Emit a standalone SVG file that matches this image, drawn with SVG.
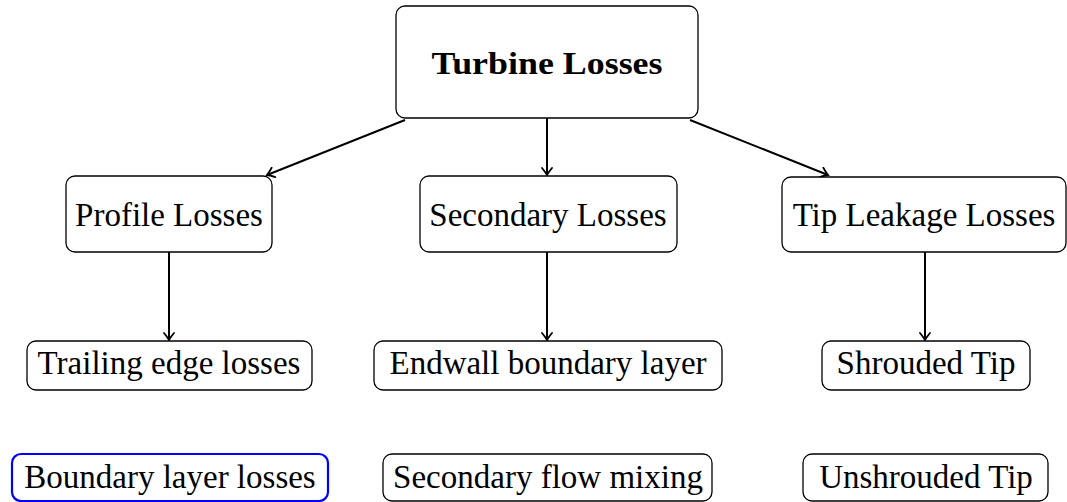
<svg xmlns="http://www.w3.org/2000/svg" width="1067" height="502" viewBox="0 0 1067 502">
<defs>
<style>
.box{fill:#fff;stroke:#000;stroke-width:1.3}
.blue{fill:#fff;stroke:#0000ff;stroke-width:2.2}
.t{font-family:"Liberation Serif","DejaVu Serif",serif;font-size:33px;fill:#000;text-anchor:middle}
.tb{font-family:"Liberation Serif","DejaVu Serif",serif;font-size:32px;font-weight:bold;fill:#000;text-anchor:middle}
.c{fill:none;stroke:#000;stroke-width:2}
</style>
<marker id="ah" viewBox="-8 -6 10 12" markerWidth="10" markerHeight="12" refX="0" refY="0" orient="auto" markerUnits="userSpaceOnUse">
<path d="M-7,-5 Q-2,-1 0,0 Q-2,1 -7,5" fill="none" stroke="#000" stroke-width="1.8" stroke-linecap="round"/>
</marker>
</defs>
<g id="connectors">
<line class="c" x1="405" y1="120" x2="267" y2="175" marker-end="url(#ah)"/>
<line class="c" x1="547" y1="118" x2="547" y2="175" marker-end="url(#ah)"/>
<line class="c" x1="690" y1="120" x2="828" y2="175" marker-end="url(#ah)"/>
<line class="c" x1="169" y1="252" x2="169" y2="340" marker-end="url(#ah)"/>
<line class="c" x1="547" y1="252" x2="547" y2="340" marker-end="url(#ah)"/>
<line class="c" x1="925" y1="252" x2="925" y2="340" marker-end="url(#ah)"/>
</g>
<g id="turbine-losses">
<rect class="box" x="396" y="6" width="302" height="112" rx="9"/>
<text class="tb" x="547" y="74" textLength="231" lengthAdjust="spacingAndGlyphs">Turbine Losses</text>
</g>
<g id="profile-losses">
<rect class="box" x="66" y="176" width="206" height="76" rx="9"/>
<text class="t" x="169" y="226">Profile Losses</text>
</g>
<g id="secondary-losses">
<rect class="box" x="420" y="176" width="257" height="76" rx="9"/>
<text class="t" x="548" y="226">Secondary Losses</text>
</g>
<g id="tip-leakage-losses">
<rect class="box" x="782" y="177" width="284" height="75" rx="9"/>
<text class="t" x="924" y="226">Tip Leakage Losses</text>
</g>
<g id="trailing-edge-losses">
<rect class="box" x="27" y="341" width="285" height="49" rx="9"/>
<text class="t" x="169" y="374">Trailing edge losses</text>
</g>
<g id="endwall-boundary-layer">
<rect class="box" x="374" y="341" width="348" height="49" rx="9"/>
<text class="t" x="548" y="374">Endwall boundary layer</text>
</g>
<g id="shrouded-tip">
<rect class="box" x="822" y="341" width="208" height="49" rx="9"/>
<text class="t" x="926" y="374">Shrouded Tip</text>
</g>
<g id="boundary-layer-losses">
<rect class="blue" x="12" y="454" width="316" height="47" rx="9"/>
<text class="t" x="170" y="488">Boundary layer losses</text>
</g>
<g id="secondary-flow-mixing">
<rect class="box" x="383" y="454" width="329" height="47" rx="9"/>
<text class="t" x="548" y="488">Secondary flow mixing</text>
</g>
<g id="unshrouded-tip">
<rect class="box" x="803" y="454" width="245" height="47" rx="9"/>
<text class="t" x="926" y="488">Unshrouded Tip</text>
</g>
</svg>
